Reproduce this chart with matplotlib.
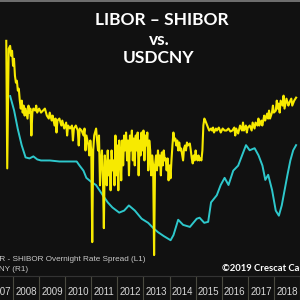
import numpy as np
import matplotlib
matplotlib.use('Agg')
import matplotlib.pyplot as plt

# LIBOR - SHIBOR overnight spread (L1)
spread_t = [2007.740, 2007.777, 2007.833, 2007.888, 2007.925, 2007.962, 2008.000, 2008.036, 2008.073, 2008.110,
            2008.147, 2008.184, 2008.221, 2008.259, 2008.296, 2008.333, 2008.370, 2008.407, 2008.444, 2008.481,
            2008.555, 2008.592, 2008.629, 2008.666, 2008.703, 2008.740, 2008.777, 2008.851, 2008.888, 2008.925,
            2008.999, 2009.073, 2009.147, 2009.221, 2009.296, 2009.370, 2009.407, 2009.481, 2009.518, 2009.592,
            2009.629, 2009.666, 2009.703, 2009.777, 2009.851, 2009.888, 2009.962, 2010.036, 2010.073, 2010.110,
            2010.184, 2010.258, 2010.295, 2010.333, 2010.407, 2010.481, 2010.518, 2010.555, 2010.629, 2010.703,
            2010.740, 2010.777, 2010.814, 2010.888, 2010.925, 2010.962, 2010.999, 2011.036, 2011.073, 2011.110,
            2011.184, 2011.221, 2011.258, 2011.295, 2011.333, 2011.370, 2011.407, 2011.444, 2011.481, 2011.518,
            2011.555, 2011.592, 2011.629, 2011.666, 2011.703, 2011.740, 2011.777, 2011.814, 2011.851, 2011.888,
            2011.925, 2011.962, 2011.999, 2012.036, 2012.073, 2012.110, 2012.147, 2012.184, 2012.221, 2012.258,
            2012.295, 2012.333, 2012.370, 2012.407, 2012.444, 2012.481, 2012.518, 2012.555, 2012.592, 2012.629,
            2012.666, 2012.703, 2012.740, 2012.777, 2012.814, 2012.851, 2012.888, 2012.925, 2012.962, 2012.999,
            2013.036, 2013.073, 2013.110, 2013.147, 2013.184, 2013.221, 2013.258, 2013.295, 2013.333, 2013.370,
            2013.407, 2013.444, 2013.481, 2013.518, 2013.555, 2013.592, 2013.629, 2013.666, 2013.703, 2013.740,
            2013.777, 2013.814, 2013.851, 2013.888, 2013.925, 2013.962, 2013.999, 2014.036, 2014.073, 2014.110,
            2014.147, 2014.184, 2014.221, 2014.258, 2014.295, 2014.333, 2014.370, 2014.407, 2014.444, 2014.518,
            2014.555, 2014.592, 2014.629, 2014.666, 2014.703, 2014.777, 2014.814, 2014.851, 2014.888, 2014.925,
            2014.962, 2014.999, 2015.036, 2015.073, 2015.110, 2015.147, 2015.184, 2015.221, 2015.258, 2015.295,
            2015.333, 2015.370, 2015.444, 2015.518, 2015.592, 2015.629, 2015.666, 2015.703, 2015.777, 2015.814,
            2015.888, 2015.962, 2016.036, 2016.110, 2016.184, 2016.258, 2016.333, 2016.407, 2016.481, 2016.518,
            2016.555, 2016.629, 2016.703, 2016.777, 2016.814, 2016.851, 2016.925, 2016.962, 2016.999, 2017.073,
            2017.147, 2017.184, 2017.258, 2017.295, 2017.370, 2017.407, 2017.444, 2017.518, 2017.555, 2017.629,
            2017.666, 2017.740, 2017.777, 2017.814, 2017.851, 2017.925, 2017.962, 2017.999, 2018.073, 2018.110,
            2018.147, 2018.184, 2018.221, 2018.258, 2018.333, 2018.370, 2018.407, 2018.481, 2018.555, 2018.592,
            2018.666, 2018.703, 2018.777, 2018.851]
spread = [2.70, -3.70, 2.30, 2.45, 1.95, 2.20, 1.45, 1.80, 0.95, 0.60,
          0.70, 0.20, 0.30, -0.30, -0.70, -0.30, -0.90, -0.55, -1.05, -0.70,
          -1.20, -0.55, -0.90, -0.70, -2.05, -0.90, -0.70, -0.80, -0.55, -0.90,
          -0.70, -0.90, -0.80, -0.70, -1.05, -1.20, -0.90, -1.30, -1.05, -1.55,
          -1.20, -1.90, -1.30, -1.20, -1.55, -1.30, -1.70, -1.40, -2.05, -1.55,
          -1.70, -1.55, -2.30, -1.70, -1.55, -1.80, -2.55, -1.70, -1.80, -2.05,
          -1.70, -2.80, -2.05, -2.55, -3.05, -2.30, -2.80, -7.40, -2.80, -2.05,
          -1.70, -2.30, -2.80, -2.05, -4.55, -3.30, -2.80, -4.05, -6.70, -3.05,
          -3.55, -4.55, -2.80, -4.05, -3.30, -4.80, -2.80, -3.80, -3.30, -4.55,
          -2.05, -4.05, -2.55, -4.80, -2.30, -3.05, -4.30, -2.30, -3.55, -2.05,
          -2.80, -1.90, -3.30, -2.30, -4.05, -2.05, -2.80, -1.80, -3.30, -2.20,
          -3.55, -2.05, -2.80, -1.90, -4.05, -2.30, -3.05, -1.90, -2.80, -1.80,
          -3.30, -2.05, -2.55, -1.90, -3.80, -2.30, -2.80, -4.05, -3.05, -3.55,
          -8.05, -3.55, -3.05, -3.80, -2.80, -3.55, -3.05, -4.05, -2.90, -3.55,
          -2.80, -3.30, -3.20, -3.80, -3.20, -4.30, -3.55, -4.20, -3.30, -2.55,
          -1.90, -2.30, -2.20, -2.55, -2.30, -2.80, -2.40, -2.80, -2.70, -3.30,
          -2.70, -2.55, -2.80, -2.40, -2.55, -2.45, -2.80, -3.20, -3.45, -3.05,
          -3.30, -2.80, -3.20, -3.30, -3.05, -3.30, -3.20, -3.30, -2.80, -1.55,
          -1.20, -1.30, -1.55, -1.80, -1.70, -1.80, -1.65, -1.90, -1.70, -1.80,
          -1.65, -1.90, -1.70, -1.80, -1.80, -1.70, -1.85, -1.80, -1.65, -2.05,
          -1.70, -1.95, -1.55, -1.80, -1.40, -1.80, -1.55, -1.90, -1.65, -1.55,
          -1.80, -1.40, -1.70, -1.40, -1.55, -1.20, -1.55, -1.30, -1.55, -1.05,
          -1.30, -0.95, -1.20, -0.80, -1.20, -0.90, -0.55, -0.90, -0.80, -0.30,
          -0.70, -0.45, -0.90, -0.30, -0.55, -0.05, -0.70, -0.20, -0.55, -0.40,
          -0.20, -0.55, -0.30, -0.15]

# USDCNY (R1)
cny_t = [2007.89, 2008.04, 2008.18, 2008.33, 2008.48, 2008.63, 2008.78, 2008.93, 2009.07, 2009.41,
         2009.78, 2010.15, 2010.44, 2010.55, 2010.70, 2010.81, 2011.00, 2011.18, 2011.44, 2011.63,
         2011.81, 2012.07, 2012.26, 2012.44, 2012.67, 2012.93, 2013.18, 2013.37, 2013.55, 2013.78,
         2014.04, 2014.15, 2014.33, 2014.52, 2014.78, 2015.04, 2015.15, 2015.33, 2015.48, 2015.59,
         2015.81, 2015.96, 2016.11, 2016.26, 2016.44, 2016.63, 2016.78, 2016.93, 2017.07, 2017.26,
         2017.41, 2017.56, 2017.67, 2017.78, 2017.93, 2018.07, 2018.19, 2018.30, 2018.41, 2018.52,
         2018.63, 2018.74, 2018.85]
cny = [7.46, 7.32, 7.14, 6.98, 6.86, 6.85, 6.87, 6.84, 6.83, 6.83,
       6.82, 6.82, 6.82, 6.78, 6.73, 6.66, 6.62, 6.59, 6.49, 6.42,
       6.37, 6.32, 6.34, 6.39, 6.34, 6.26, 6.22, 6.17, 6.13, 6.09,
       6.05, 6.10, 6.25, 6.20, 6.18, 6.26, 6.27, 6.22, 6.23, 6.42,
       6.49, 6.59, 6.66, 6.59, 6.73, 6.78, 6.88, 6.98, 6.93, 6.95,
       6.88, 6.78, 6.64, 6.69, 6.54, 6.34, 6.29, 6.39, 6.54, 6.69,
       6.83, 6.93, 6.98]

years = list(range(2007, 2019))

bg = '#111111'
fig = plt.figure(figsize=(3, 3), dpi=100)
fig.patch.set_facecolor(bg)
ax = fig.add_axes([0, 0.08, 1, 0.9167])
ax.set_facecolor(bg)
ax2 = ax.twinx()
ax.set_zorder(ax2.get_zorder() + 1)
ax.patch.set_visible(False)

ax2.plot(cny_t, cny, color='#2ec8cc', lw=1.4)
ax.plot(spread_t, spread, color='#f7ea00', lw=1.5)

ax.set_xlim(2007.74, 2018.851)
ax.set_ylim(-9.1, 4.7)
ax2.set_ylim(5.70, 8.39)

for a in (ax, ax2):
    a.set_yticks([])
    for s in ('left', 'right'):
        a.spines[s].set_visible(False)
    a.spines['top'].set_color('#707070')
    a.spines['top'].set_linewidth(1.2)
    a.spines['bottom'].set_color('#333333')

ax.set_xticks(years[1:] + [2019])
ax.set_xticks([y + 0.5 for y in years], minor=True)
ax.set_xticklabels([str(y) for y in years], minor=True)
ax.tick_params(axis='x', which='major', length=17, width=0.8, color='#4a4a40', labelbottom=False)
ax.tick_params(axis='x', which='minor', length=0, pad=8, labelsize=7, labelcolor='#d8d8d8')
for lab in ax.get_xticklabels(minor=True):
    lab.set_family('Liberation Sans')

# title
fig.text(162 / 300, 1 - 25 / 300, 'LIBOR – SHIBOR', color='white', fontsize=12.5,
         fontweight='bold', family='Lato', ha='center', va='baseline')
fig.text(159 / 300, 1 - 45 / 300, 'vs.', color='white', fontsize=12.5,
         fontweight='bold', family='Lato', ha='center', va='baseline')
fig.text(159 / 300, 1 - 63 / 300, 'USDCNY', color='white', fontsize=12.5,
         fontweight='bold', family='Lato', ha='center', va='baseline')

# legend text (cut at the left edge)
fig.text(-19 / 300, 1 - 261 / 300, 'LIBOR - SHIBOR Overnight Rate Spread (L1)', color='#c8c8c8',
         fontsize=5.9, family='Liberation Sans', ha='left', va='baseline')
fig.text(-24 / 300, 1 - 271 / 300, 'USDCNY (R1)', color='#c8c8c8',
         fontsize=5.9, family='Liberation Sans', ha='left', va='baseline')

fig.text(222 / 300, 1 - 271 / 300, '©2019 Crescat Capital', color='white', fontsize=6.8,
         fontweight='bold', family='Lato', ha='left', va='baseline')

fig.savefig('out.png', dpi=100, facecolor=bg)
